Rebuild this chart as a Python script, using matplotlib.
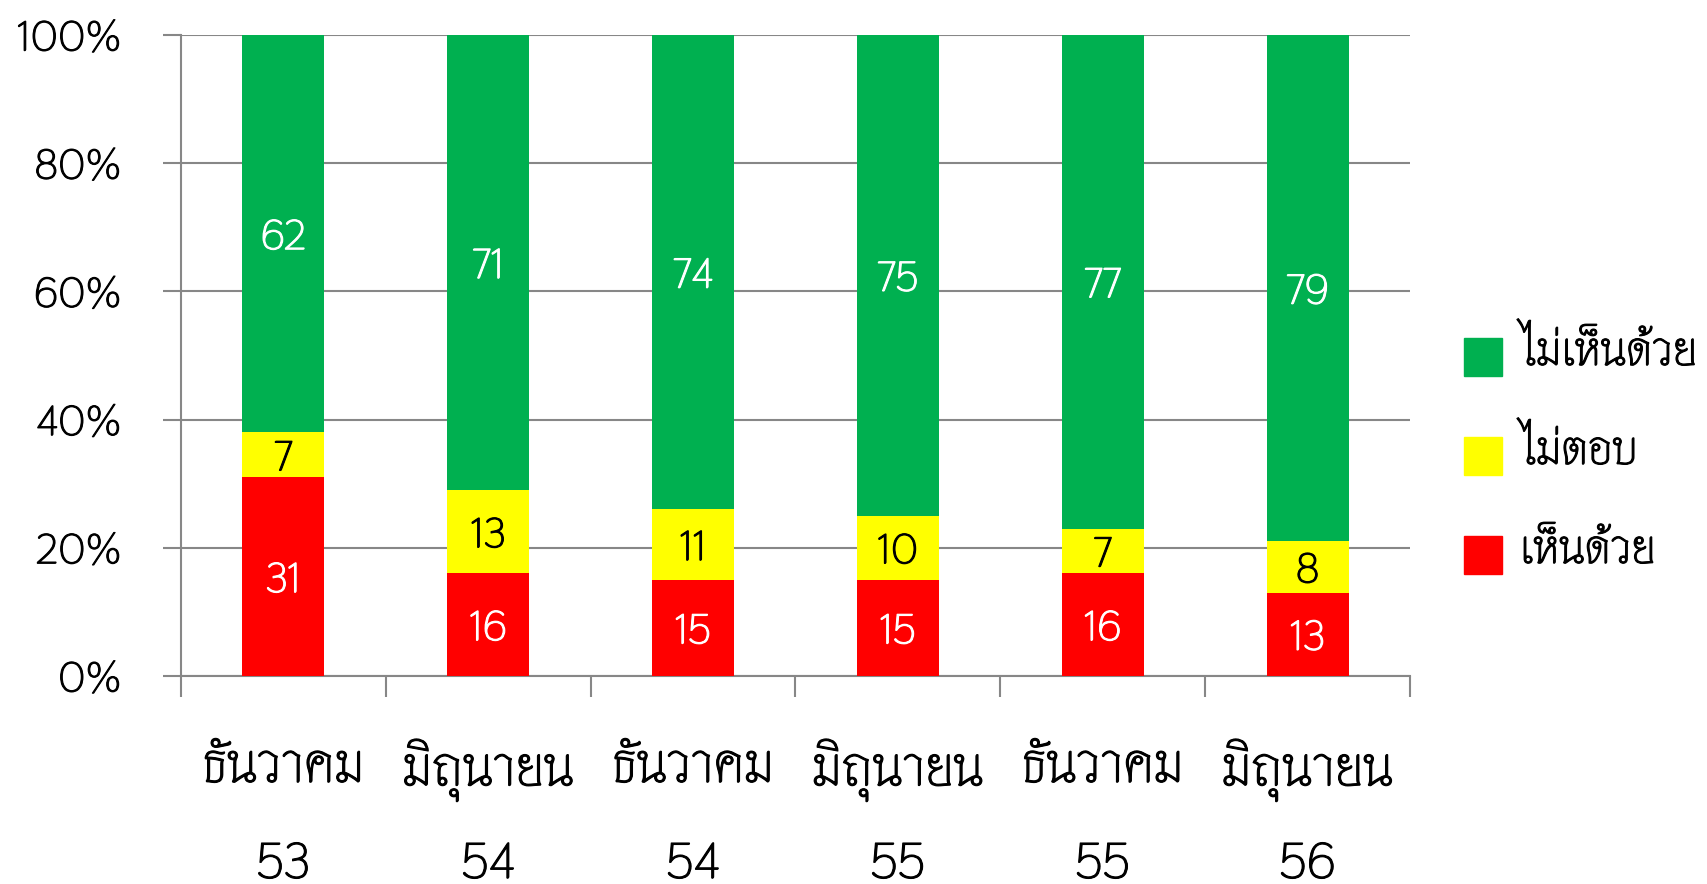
import matplotlib
matplotlib.use("Agg")
import matplotlib.pyplot as plt
import matplotlib.transforms as mtrans
import matplotlib.patheffects as pe
from matplotlib.patches import Rectangle
import numpy as np

categories = ["ธันวาคม", "มิถุนายน", "ธันวาคม", "มิถุนายน", "ธันวาคม", "มิถุนายน"]
years = ["53", "54", "54", "55", "55", "56"]
agree = [31, 16, 15, 15, 16, 13]
no_answer = [7, 13, 11, 10, 7, 8]
disagree = [62, 71, 74, 75, 77, 79]
series_names = ["เห็นด้วย", "ไม่ตอบ", "ไม่เห็นด้วย"]
colors = ["#FF0000", "#FFFF00", "#00B050"]
label_colors = ["white", "black", "white"]

plt.rcParams["font.family"] = ["Thasadith", "DejaVu Sans"]


def thick(c):
    return [pe.withStroke(linewidth=0.8, foreground=c)]


W, H = 1708, 884
fig = plt.figure(figsize=(W / 100, H / 100), dpi=100)
ax = fig.add_axes([181 / W, 1 - 676 / H, (1410 - 181) / W, (676 - 35) / H])

x = np.arange(len(categories))
bottom = np.zeros(len(categories))
grid_c = "#878787"
for vals, col, lc in zip([agree, no_answer, disagree], colors, label_colors):
    ax.bar(x, vals, width=0.4, bottom=bottom, color=col, zorder=3)
    for xi, b, v in zip(x, bottom, vals):
        ax.text(xi, b + v / 2, str(v), ha="center", va="center_baseline",
                color=lc, fontsize=30, zorder=4, path_effects=thick(lc))
    bottom = bottom + np.array(vals)

ax.set_xlim(-0.5, len(categories) - 0.5)
ax.set_ylim(0, 100)
ax.set_yticks(np.arange(0, 101, 20))
ax.set_yticklabels([f"{v}%" for v in range(0, 101, 20)], fontsize=30)
for t in ax.get_yticklabels():
    t.set_path_effects(thick("black"))
ax.yaxis.grid(True, color=grid_c, linewidth=1.5, zorder=0)
ax.tick_params(axis="y", length=13, width=1.5, color=grid_c, pad=30)
ax.set_xticks(np.arange(-0.5, len(categories) + 0.5, 1))
ax.set_xticklabels([])
ax.tick_params(axis="x", length=15, width=1.5, color=grid_c)
for s in ["top", "right"]:
    ax.spines[s].set_visible(False)
for s in ["left", "bottom"]:
    ax.spines[s].set_color(grid_c)
    ax.spines[s].set_linewidth(1.5)

tr = mtrans.blended_transform_factory(ax.transData, ax.transAxes)
for xi, c, yv in zip(x, categories, years):
    ax.text(xi, (676 - 762) / 641, c, transform=tr, ha="center",
            va="center_baseline", fontsize=40, path_effects=thick("black"))
    ax.text(xi, (676 - 860) / 641, yv, transform=tr, ha="center",
            va="center_baseline", fontsize=36, path_effects=thick("black"))

# legend (top to bottom: disagree, no answer, agree)
centers = [357, 456, 555]
for name, col, cy in zip(series_names[::-1], colors[::-1], centers):
    fig.patches.append(Rectangle((1464 / W, 1 - (cy + 19) / H), 38 / W, 38 / H,
                                 transform=fig.transFigure, color=col))
    fig.text(1520 / W, 1 - (cy + 8) / H, name, fontsize=34, va="baseline",
             ha="left", path_effects=thick("black"))

fig.savefig("out.png", dpi=100)
